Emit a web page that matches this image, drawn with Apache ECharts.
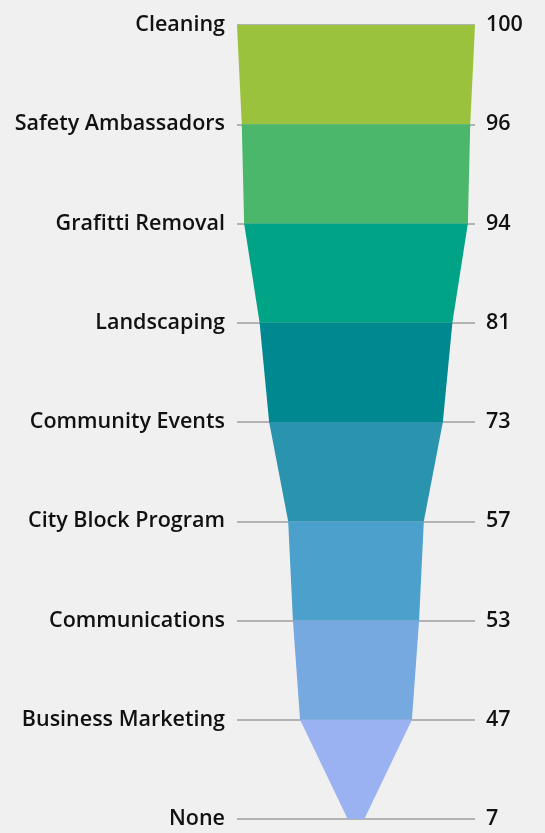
<!DOCTYPE html>
<html><head><meta charset="utf-8">
<script src="https://cdn.jsdelivr.net/npm/echarts@6/dist/echarts.min.js"></script>
<style>html,body{margin:0;padding:0;background:#f0f0f0}#c{width:545px;height:833px}</style>
</head><body><div id="c"></div>
<script>
const categories = ["Cleaning","Safety Ambassadors","Grafitti Removal","Landscaping","Community Events","City Block Program","Communications","Business Marketing","None"];
const values = [100,96,94,81,73,57,53,47,7];
const segColors = ["#9bc23d","#4bb76b","#00a386","#008891","#2a93ad","#4ca1cc","#76a9e0","#9ab2f1"];

const chart = echarts.init(document.getElementById('c'), null, {renderer:'canvas'});
const segData = values.slice(0, -1).map((v, i) => [i, v, values[i+1]]);
const font = {fontFamily:'Open Sans', fontWeight:600, fontSize:21.5, color:'#111', padding:[4,0,0,0]};
chart.setOption({
  backgroundColor:'#f0f0f0',
  animation:false,
  grid:{left:237, right:70, top:25, bottom:14},
  xAxis:{type:'value', min:-50, max:50, show:false},
  yAxis:[
    {type:'category', data:categories, inverse:true, boundaryGap:false,
     axisLine:{show:false}, axisTick:{show:false},
     axisLabel:Object.assign({margin:12}, font),
     splitLine:{show:true, lineStyle:{color:'#b3b3b3', width:2}}},
    {type:'category', data:values.map(String), inverse:true, boundaryGap:false, position:'right',
     axisLine:{show:false}, axisTick:{show:false},
     axisLabel:Object.assign({margin:11}, font),
     splitLine:{show:false}}
  ],
  series:[{
    type:'custom',
    data:segData,
    encode:{x:[1,2], y:0},
    renderItem:(params, api) => {
      const i = api.value(0), a = api.value(1), b = api.value(2);
      const p1 = api.coord([-a/2, i]), p2 = api.coord([a/2, i]);
      const p3 = api.coord([b/2, i+1]), p4 = api.coord([-b/2, i+1]);
      return {type:'polygon', shape:{points:[p1,p2,p3,p4]},
        style:{fill:segColors[params.dataIndex]}};
    }
  }]
});
</script></body></html>
